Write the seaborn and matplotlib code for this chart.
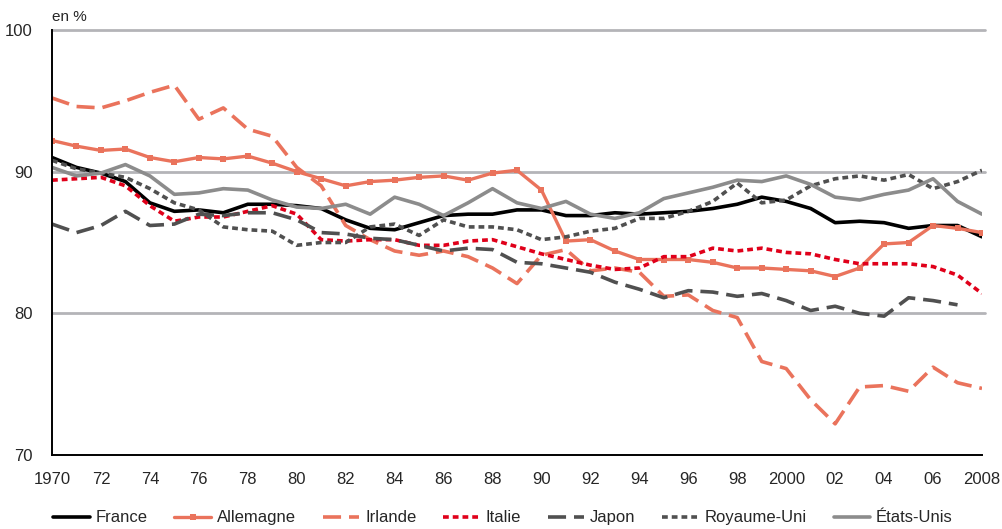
import numpy as np
import pandas as pd
import matplotlib
matplotlib.use("Agg")
import matplotlib.pyplot as plt
import seaborn as sns

# Données (en %), 1970-2008
annees = list(range(1970, 2009))

france = [91.0, 90.3, 89.9, 89.3, 87.8, 87.2, 87.3, 87.1, 87.7, 87.7,
          87.6, 87.4, 86.6, 86.0, 85.9, 86.4, 86.9, 87.0, 87.0, 87.3,
          87.3, 86.9, 86.9, 87.1, 87.0, 87.1, 87.2, 87.4, 87.7, 88.2,
          87.9, 87.4, 86.4, 86.5, 86.4, 86.0, 86.2, 86.2, 85.4]

allemagne = [92.2, 91.8, 91.5, 91.6, 91.0, 90.7, 91.0, 90.9, 91.1, 90.6,
             90.0, 89.5, 89.0, 89.3, 89.4, 89.6, 89.7, 89.4, 89.9, 90.1,
             88.7, 85.1, 85.2, 84.4, 83.8, 83.8, 83.8, 83.6, 83.2, 83.2,
             83.1, 83.0, 82.6, 83.2, 84.9, 85.0, 86.2, 86.0, 85.7]

irlande = [95.2, 94.6, 94.5, 95.0, 95.6, 96.1, 93.7, 94.5, 93.0, 92.5,
           90.3, 89.0, 86.2, 85.2, 84.4, 84.1, 84.4, 84.0, 83.2, 82.1,
           84.1, 84.5, 83.0, 83.2, 82.9, 81.2, 81.3, 80.2, 79.7, 76.6,
           76.1, 73.9, 72.2, 74.8, 74.9, 74.5, 76.2, 75.1, 74.7]

italie = [89.4, 89.5, 89.6, 89.0, 87.6, 86.5, 86.8, 86.8, 87.2, 87.6,
          87.0, 85.2, 85.1, 85.2, 85.2, 84.8, 84.8, 85.1, 85.2, 84.7,
          84.2, 83.8, 83.4, 83.1, 83.2, 84.0, 84.0, 84.6, 84.4, 84.6,
          84.3, 84.2, 83.8, 83.5, 83.5, 83.5, 83.3, 82.7, 81.4]

japon = [86.3, 85.7, 86.2, 87.2, 86.2, 86.3, 87.0, 86.9, 87.1, 87.1,
         86.6, 85.7, 85.6, 85.3, 85.2, 84.8, 84.4, 84.6, 84.5, 83.6,
         83.5, 83.2, 82.9, 82.2, 81.7, 81.1, 81.6, 81.5, 81.2, 81.4,
         80.9, 80.2, 80.5, 80.0, 79.8, 81.1, 80.9, 80.6, np.nan]

royaume_uni = [90.8, 90.2, 89.9, 89.6, 88.8, 87.8, 87.3, 86.1, 85.9, 85.8,
               84.8, 85.0, 85.0, 86.1, 86.3, 85.5, 86.6, 86.1, 86.1, 85.9,
               85.2, 85.4, 85.8, 86.0, 86.7, 86.7, 87.2, 87.9, 89.2, 87.8,
               88.0, 89.0, 89.5, 89.7, 89.4, 89.8, 88.8, 89.3, 90.1]

etats_unis = [90.3, 89.7, 89.9, 90.5, 89.7, 88.4, 88.5, 88.8, 88.7, 88.0,
              87.5, 87.4, 87.7, 87.0, 88.2, 87.7, 86.9, 87.8, 88.8, 87.8,
              87.4, 87.9, 87.0, 86.7, 87.1, 88.1, 88.5, 88.9, 89.4, 89.3,
              89.7, 89.1, 88.2, 88.0, 88.4, 88.7, 89.5, 87.9, 87.0]

pays = ["France", "Allemagne", "Irlande", "Italie", "Japon", "Royaume-Uni", "États-Unis"]
series = [france, allemagne, irlande, italie, japon, royaume_uni, etats_unis]

x_ticks = list(range(1970, 2009, 2))
x_labels = ["1970", "72", "74", "76", "78", "80", "82", "84", "86", "88",
            "90", "92", "94", "96", "98", "2000", "02", "04", "06", "2008"]
y_ticks = [70, 80, 90, 100]

df = pd.DataFrame({"annee": annees * len(pays),
                   "pays": [p for p in pays for _ in annees],
                   "valeur": [v for s in series for v in s]})

saumon = "#ea735c"
styles = {
    "France":      dict(color="black", lw=2.6, ls="-"),
    "Allemagne":   dict(color=saumon, lw=2.4, ls="-", marker="s", ms=5),
    "Irlande":     dict(color=saumon, lw=2.6, ls=(0, (5, 2.2))),
    "Italie":      dict(color="#e0001a", lw=2.6, ls=(0, (1.6, 1.1))),
    "Japon":       dict(color="#505050", lw=2.6, ls=(0, (5, 2.2))),
    "Royaume-Uni": dict(color="#505050", lw=2.6, ls=(0, (1.6, 1.1))),
    "États-Unis":  dict(color="#8c8c8c", lw=2.6, ls="-"),
}

sns.set_style("white")
plt.rcParams["font.family"] = ["Liberation Sans", "DejaVu Sans"]

fig = plt.figure(figsize=(10.02, 5.29), dpi=100)
ax = fig.add_axes([52 / 1002, 1 - 455 / 529, 930 / 1002, 425 / 529])

for g in [80, 90, 100]:
    ax.axhline(g, color="#b4b4b8", lw=2, zorder=0, xmax=1.003, clip_on=False)

for p in pays:
    st = styles[p]
    sub = df[df["pays"] == p]
    sns.lineplot(data=sub, x="annee", y="valeur", ax=ax, color=st["color"],
                 linewidth=st["lw"], linestyle=st["ls"], marker=st.get("marker"),
                 markersize=st.get("ms", 0), markeredgewidth=0, label=p,
                 estimator=None)

ax.set_xlim(1970, 2008)
ax.set_ylim(70, 100)
ax.set_xticks(x_ticks)
ax.set_xticklabels(x_labels)
ax.set_yticks(y_ticks)
ax.set_xlabel("")
ax.set_ylabel("")
ax.tick_params(axis="x", direction="in", length=5, width=1.2, labelsize=12, pad=12, color="black")
ax.tick_params(axis="y", length=0, labelsize=12, pad=14)
for s in ["top", "right"]:
    ax.spines[s].set_visible(False)
for s in ["left", "bottom"]:
    ax.spines[s].set_color("black")
    ax.spines[s].set_linewidth(1.4)

ax.text(0.0, 1.015, "en %", transform=ax.transAxes, fontsize=11, ha="left", va="bottom")

ax.legend(loc="upper center", bbox_to_anchor=(0.485, -0.095), ncol=7, frameon=False,
          fontsize=12, handlelength=2.2, columnspacing=1.6, handletextpad=0.35,
          numpoints=1)

fig.savefig("out.png", dpi=100)
